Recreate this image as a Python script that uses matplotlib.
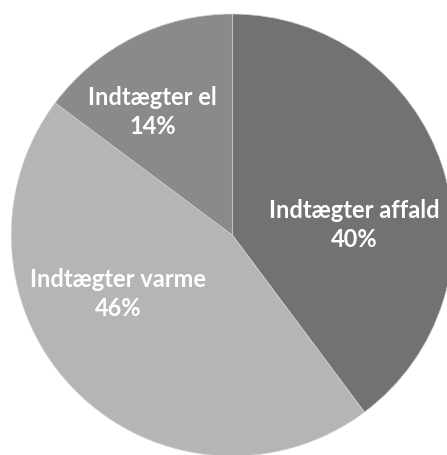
import matplotlib
matplotlib.use("Agg")
import matplotlib.pyplot as plt

labels = ["Indtægter affald", "Indtægter varme", "Indtægter el"]
pct_text = ["40%", "46%", "14%"]
# wedge sizes (angles of the boundaries)
values = [39.8, 45.4, 14.8]
colors = ["#727272", "#b5b5b5", "#8a8a8a"]
# label centres in pie units (radius = 1)
label_xy = [(0.55, 0.045), (-0.516, -0.267), (-0.36, 0.557)]

R_PX = 221.0
CX, CY = 232.3, 235.0
W, H = 447, 455

fig = plt.figure(figsize=(W / 100, H / 100), dpi=100)
ax = fig.add_axes([0, 0, 1, 1])
ax.pie(values, colors=colors, startangle=90, counterclock=False,
       wedgeprops=dict(edgecolor="#d0d0d0", linewidth=0.5))
ax.set_aspect("auto")
ax.set_xlim(-CX / R_PX, (W - CX) / R_PX)
ax.set_ylim(-(H - CY) / R_PX, CY / R_PX)
ax.axis("off")

for name, pct, (x, y) in zip(labels, pct_text, label_xy):
    ax.text(x, y, f"{name}\n{pct}", ha="center", va="center", color="white",
            fontsize=17, fontweight="bold", family=["Lato", "DejaVu Sans"],
            linespacing=1.3)

fig.savefig("out.png", dpi=100, facecolor="white")
